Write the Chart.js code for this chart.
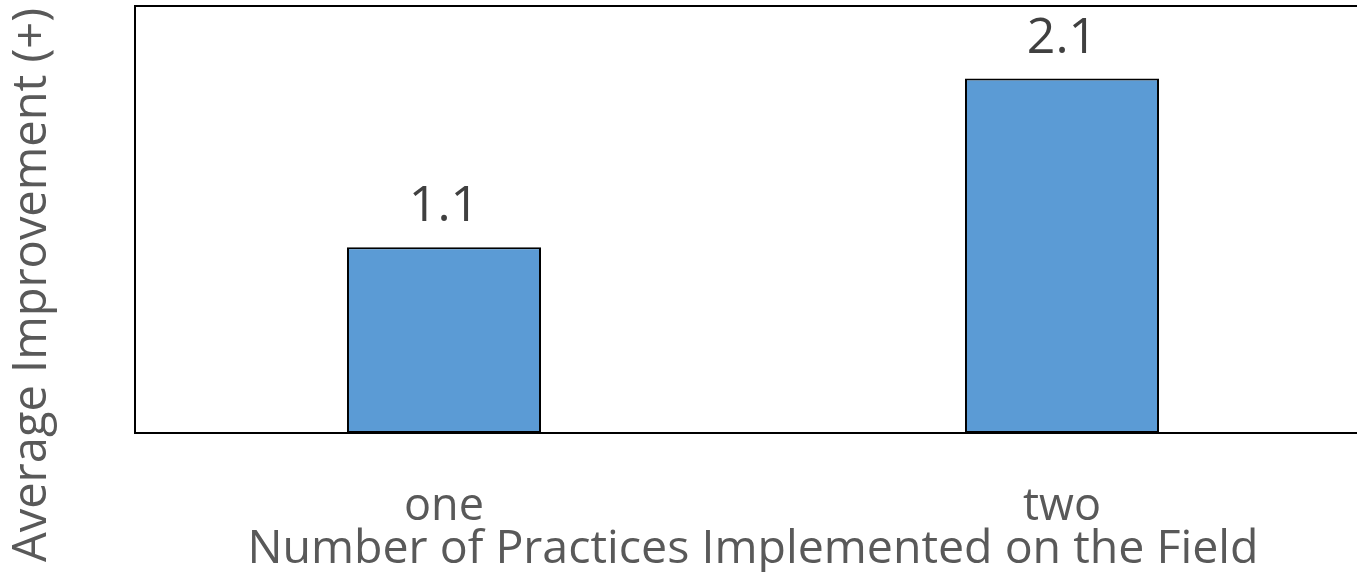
<!DOCTYPE html>
<html>
<head>
<meta charset="utf-8">
<script src="https://cdn.jsdelivr.net/npm/chart.js@4.4.1/dist/chart.umd.min.js"></script>
<style>
  html, body { margin: 0; padding: 0; background: #fff; overflow: hidden; }
  #wrap { width: 1357px; height: 572px; overflow: hidden; position: relative; }
  canvas { display: block; }
</style>
</head>
<body>
<div id="wrap"><canvas id="c" width="1380" height="572"></canvas></div>
<script>
// Chart data
const categories = ['one', 'two'];
const values = [1.1, 2.1];
const valueLabels = ['1.1', '2.1'];
const yMax = 2.53;

const xTitle = 'Number of Practices Implemented on the Field';
const yTitle = 'Average Improvement (+)';

const textColor = '#595959';
const labelColor = '#404040';
const fontFamily = '"Open Sans", "DejaVu Sans", sans-serif';

// Value labels above each bar
const valueLabelPlugin = {
  id: 'valueLabels',
  afterDatasetsDraw(chart) {
    const ctx = chart.ctx;
    const meta = chart.getDatasetMeta(0);
    ctx.save();
    ctx.fillStyle = labelColor;
    ctx.font = '50px ' + fontFamily;
    ctx.textAlign = 'center';
    ctx.textBaseline = 'alphabetic';
    meta.data.forEach((bar, i) => {
      ctx.fillText(valueLabels[i], bar.x, bar.y - 26);
    });
    ctx.restore();
  }
};

// Frame line along the top of the plot area and the rotated y-axis title
const framePlugin = {
  id: 'frame',
  afterDraw(chart) {
    const { ctx, chartArea } = chart;
    ctx.save();
    ctx.strokeStyle = '#000';
    ctx.lineWidth = 2;
    ctx.beginPath();
    ctx.moveTo(chartArea.left - 1, chartArea.top);
    ctx.lineTo(chartArea.right, chartArea.top);
    ctx.stroke();

    ctx.translate(33, 285);
    ctx.rotate(-Math.PI / 2);
    ctx.fillStyle = textColor;
    ctx.font = '47px ' + fontFamily;
    ctx.textAlign = 'center';
    ctx.textBaseline = 'middle';
    ctx.fillText(yTitle, 0, 0);
    ctx.restore();
  }
};

new Chart(document.getElementById('c'), {
  type: 'bar',
  data: {
    labels: categories,
    datasets: [{
      data: values,
      backgroundColor: '#5B9BD5',
      borderColor: '#000',
      borderWidth: 2,
      borderSkipped: false,
      barPercentage: 0.314,
      categoryPercentage: 1
    }]
  },
  options: {
    responsive: false,
    animation: false,
    layout: { padding: { top: 6, left: 135, right: 9, bottom: 0 } },
    plugins: { legend: { display: false }, tooltip: { enabled: false } },
    scales: {
      x: {
        grid: { display: false, drawTicks: false },
        border: { display: true, color: '#000', width: 2 },
        ticks: { color: textColor, font: { family: fontFamily, size: 45 }, padding: 47 },
        title: {
          display: true,
          text: xTitle,
          color: textColor,
          font: { family: fontFamily, size: 46.5 },
          padding: { top: 0, bottom: -6 }
        },
        afterFit(scale) { scale.height = 139; }
      },
      y: {
        min: 0,
        max: yMax,
        grid: { display: false, drawTicks: false },
        border: { display: true, color: '#000', width: 2 },
        ticks: { display: false },
        afterFit(scale) { scale.width = 0; }
      }
    }
  },
  plugins: [valueLabelPlugin, framePlugin]
});
</script>
</body>
</html>
